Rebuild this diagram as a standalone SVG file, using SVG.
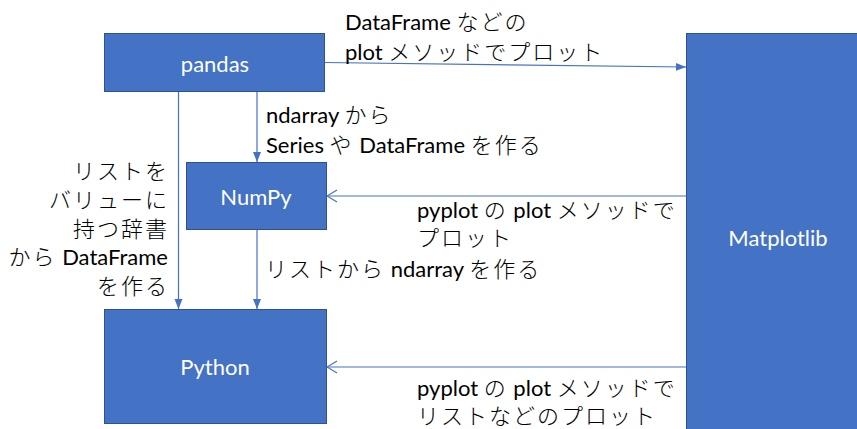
<svg xmlns="http://www.w3.org/2000/svg" width="857" height="429" viewBox="0 0 857 429">
<defs>
<style>
.box{fill:#4472C4;stroke:#2F528F;stroke-width:1}
.nl{font-family:Lato,"Noto Sans CJK JP",sans-serif;font-size:22px;fill:#FFFFFF;text-anchor:middle;dominant-baseline:central}
.lb{font-family:Lato,"Noto Sans CJK JP",sans-serif;font-size:22px;fill:#000000}
.j{letter-spacing:2px;font-weight:300}
.ln{stroke:#4472C4;stroke-width:1.2;fill:none}
</style>
<marker id="tri" markerUnits="userSpaceOnUse" markerWidth="10" markerHeight="10" viewBox="0 0 10 10" refX="10" refY="5" orient="auto">
<path d="M0,1 L10,5 L0,9 Z" fill="#4472C4"/>
</marker>
<marker id="vee" markerUnits="userSpaceOnUse" markerWidth="12" markerHeight="14" viewBox="0 0 12 14" refX="11" refY="7" orient="auto">
<path d="M1,1 L11,7 L1,13" fill="none" stroke="#4472C4" stroke-width="1.2"/>
</marker>
</defs>
<rect width="857" height="429" fill="#FFFFFF"/>
<g id="matplotlib"><rect class="box" x="686.5" y="33.5" width="175" height="400"/><text class="nl" x="778" y="237">Matplotlib</text></g>
<g id="pandas"><rect class="box" x="104.5" y="33.5" width="220" height="58"/><text class="nl" x="215" y="63">pandas</text></g>
<g id="numpy"><rect class="box" x="186.5" y="162.5" width="140" height="67"/><text class="nl" x="256" y="196">NumPy</text></g>
<g id="python"><rect class="box" x="104.5" y="309.5" width="222" height="114"/><text class="nl" x="215" y="366">Python</text></g>
<g id="connectors">
<path class="ln" d="M324.5,62.5 L686,67" marker-end="url(#tri)"/>
<path class="ln" d="M257,92 L257,162" marker-end="url(#tri)"/>
<path class="ln" d="M178.5,92 L178.5,309" marker-end="url(#tri)"/>
<path class="ln" d="M257,230 L257,309" marker-end="url(#tri)"/>
<path class="ln" d="M686,196 L327,196" marker-end="url(#vee)"/>
<path class="ln" d="M686,367 L327,367" marker-end="url(#vee)"/>
</g>
<g id="labels">
<text class="lb" x="345" y="30">DataFrame <tspan class="j">などの</tspan></text>
<text class="lb" x="345" y="60">plot <tspan class="j">メソッドでプロット</tspan></text>
<text class="lb" x="266" y="123">ndarray <tspan class="j">から</tspan></text>
<text class="lb" x="266" y="153">Series <tspan class="j">や</tspan> DataFrame <tspan class="j">を作る</tspan></text>
<text class="lb" text-anchor="end" x="169" y="179"><tspan class="j">リストを</tspan></text>
<text class="lb" text-anchor="end" x="169" y="208"><tspan class="j">バリューに</tspan></text>
<text class="lb" text-anchor="end" x="169" y="237"><tspan class="j">持つ辞書</tspan></text>
<text class="lb" text-anchor="end" x="168" y="265"><tspan class="j">から</tspan> DataFrame</text>
<text class="lb" text-anchor="end" x="169" y="294"><tspan class="j">を作る</tspan></text>
<text class="lb" x="265" y="277"><tspan class="j">リストから</tspan> ndarray <tspan class="j">を作る</tspan></text>
<text class="lb" x="417" y="218">pyplot <tspan class="j">の</tspan> plot <tspan class="j">メソッドで</tspan></text>
<text class="lb" x="417" y="246"><tspan class="j">プロット</tspan></text>
<text class="lb" x="417" y="396">pyplot <tspan class="j">の</tspan> plot <tspan class="j">メソッドで</tspan></text>
<text class="lb" x="417" y="424"><tspan class="j">リストなどのプロット</tspan></text>
</g>
</svg>
